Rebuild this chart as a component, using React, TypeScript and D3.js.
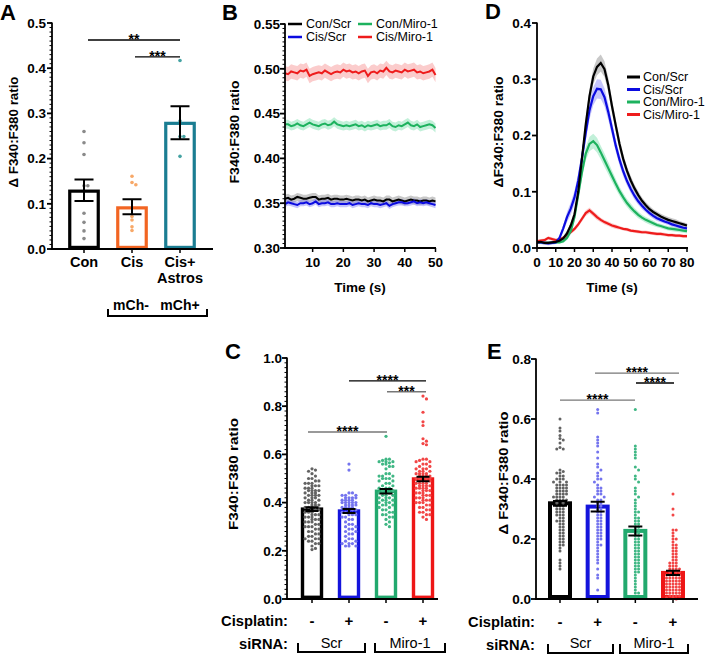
import React from "react";
import * as d3 from "d3";

const FONT = "'Liberation Sans', Arial, Helvetica, sans-serif";

// ---------------- Panel A data ----------------
const catsA = ["Con", "Cis", "Cis+Astros"];
const meanA = [0.128, 0.091, 0.278];
const errLowA = [0.106, 0.077, 0.243];
const errHighA = [0.154, 0.11, 0.316];
const pointsA_Con = [0.26, 0.235, 0.209, 0.14, 0.14, 0.079, 0.059, 0.04, 0.023];
const pointsA_Cis = [0.161, 0.147, 0.142, 0.072, 0.064, 0.049, 0.041];
const pointsA_Astros = [0.417, 0.283, 0.249, 0.249, 0.205];
const ticksA = [0, 0.1, 0.2, 0.3, 0.4, 0.5];

// ---------------- Panel B data (t = 1..50 s) ----------------
const seriesNames = ["Con/Scr", "Cis/Scr", "Con/Miro-1", "Cis/Miro-1"];
const bConScr = [0.355,0.356,0.354,0.355,0.357,0.356,0.355,0.355,0.356,0.357,0.357,0.354,0.355,0.355,0.356,0.354,0.355,0.355,0.354,0.354,0.355,0.354,0.353,0.354,0.354,0.353,0.354,0.352,0.353,0.354,0.353,0.353,0.352,0.354,0.354,0.352,0.353,0.354,0.353,0.352,0.353,0.354,0.353,0.353,0.352,0.353,0.353,0.352,0.353,0.352];
const bCisScr = [0.349,0.351,0.350,0.349,0.348,0.350,0.350,0.351,0.349,0.350,0.352,0.349,0.350,0.350,0.351,0.349,0.349,0.350,0.349,0.349,0.349,0.350,0.348,0.349,0.350,0.349,0.349,0.348,0.350,0.349,0.349,0.348,0.349,0.350,0.347,0.349,0.350,0.351,0.351,0.350,0.350,0.351,0.352,0.350,0.351,0.350,0.351,0.350,0.349,0.348];
const bConMiro = [0.438,0.438,0.436,0.437,0.439,0.437,0.436,0.438,0.440,0.438,0.437,0.436,0.438,0.439,0.437,0.438,0.441,0.438,0.437,0.436,0.437,0.436,0.437,0.438,0.436,0.437,0.435,0.437,0.436,0.437,0.438,0.436,0.437,0.437,0.439,0.436,0.435,0.437,0.436,0.438,0.440,0.437,0.436,0.438,0.435,0.436,0.437,0.438,0.437,0.434];
const bCisMiro = [0.495,0.494,0.497,0.496,0.495,0.498,0.497,0.499,0.492,0.494,0.495,0.496,0.495,0.498,0.496,0.494,0.496,0.497,0.496,0.499,0.497,0.498,0.496,0.497,0.495,0.497,0.498,0.492,0.496,0.497,0.495,0.498,0.497,0.501,0.497,0.496,0.498,0.497,0.496,0.499,0.497,0.498,0.499,0.496,0.497,0.495,0.496,0.497,0.499,0.493];
const bSem = [0.0045, 0.0035, 0.005, 0.008];
const ticksBy = [0.30, 0.35, 0.40, 0.45, 0.50, 0.55];
const ticksBx = [10, 20, 30, 40, 50];

// ---------------- Panel D data (t = 0..80 s, every 2 s) ----------------
const dConScr = [0.010,0.011,0.009,0.009,0.010,0.011,0.013,0.017,0.026,0.040,0.060,0.100,0.160,0.220,0.270,0.305,0.322,0.329,0.318,0.290,0.252,0.218,0.185,0.158,0.137,0.120,0.106,0.094,0.084,0.076,0.069,0.064,0.060,0.056,0.053,0.050,0.048,0.046,0.044,0.042,0.040];
const dCisScr = [0.010,0.010,0.009,0.008,0.009,0.010,0.018,0.035,0.055,0.070,0.090,0.120,0.160,0.205,0.245,0.270,0.283,0.282,0.268,0.242,0.212,0.182,0.157,0.136,0.119,0.105,0.093,0.083,0.075,0.068,0.062,0.057,0.053,0.050,0.047,0.045,0.042,0.040,0.038,0.036,0.035];
const dConMiro = [0.010,0.010,0.009,0.009,0.009,0.010,0.010,0.012,0.018,0.030,0.055,0.095,0.135,0.168,0.185,0.190,0.183,0.170,0.156,0.142,0.128,0.114,0.101,0.090,0.080,0.072,0.065,0.059,0.054,0.050,0.047,0.044,0.041,0.039,0.037,0.035,0.034,0.033,0.032,0.031,0.030];
const dCisMiro = [0.012,0.013,0.014,0.018,0.016,0.014,0.015,0.018,0.023,0.028,0.034,0.042,0.052,0.062,0.067,0.061,0.055,0.050,0.046,0.043,0.040,0.038,0.036,0.034,0.033,0.031,0.030,0.029,0.028,0.028,0.027,0.026,0.025,0.025,0.024,0.023,0.023,0.022,0.022,0.021,0.021];
const dSemConScr = [0.003,0.003,0.003,0.003,0.003,0.003,0.003,0.004,0.005,0.006,0.007,0.009,0.011,0.012,0.013,0.014,0.015,0.015,0.014,0.013,0.012,0.011,0.010,0.009,0.008,0.008,0.007,0.007,0.006,0.006,0.006,0.005,0.005,0.005,0.005,0.005,0.005,0.005,0.004,0.004,0.004];
const dSemCisScr = [0.003,0.003,0.003,0.003,0.003,0.003,0.004,0.006,0.009,0.011,0.012,0.013,0.014,0.015,0.016,0.016,0.017,0.017,0.016,0.014,0.012,0.011,0.010,0.009,0.008,0.007,0.007,0.006,0.006,0.005,0.005,0.005,0.005,0.004,0.004,0.004,0.004,0.004,0.004,0.004,0.004];
const dSemConMiro = [0.002,0.002,0.002,0.002,0.002,0.002,0.002,0.003,0.004,0.006,0.008,0.010,0.011,0.012,0.013,0.013,0.013,0.012,0.012,0.011,0.010,0.009,0.008,0.008,0.007,0.007,0.006,0.006,0.005,0.005,0.005,0.005,0.004,0.004,0.004,0.004,0.004,0.004,0.004,0.004,0.004];
const dSemCisMiro = [0.003,0.003,0.003,0.003,0.003,0.003,0.003,0.003,0.003,0.003,0.004,0.004,0.005,0.005,0.005,0.005,0.005,0.004,0.004,0.004,0.004,0.004,0.003,0.003,0.003,0.003,0.003,0.003,0.003,0.003,0.003,0.003,0.003,0.003,0.003,0.003,0.003,0.003,0.003,0.003,0.003];
const ticksDy = [0, 0.1, 0.2, 0.3, 0.4];
const ticksDx = [0, 10, 20, 30, 40, 50, 60, 70, 80];

// ---------------- Panel C data ----------------
const cisplatinLabels = ["-", "+", "-", "+"];
const meanC = [0.373, 0.365, 0.447, 0.498];
const semC = [0.008, 0.008, 0.009, 0.009];
const pointsC_ConScr = [0.54,0.535,0.53,0.52,0.51,0.50,0.50,0.49,0.49,0.48,0.48,0.48,0.47,0.47,0.47,0.46,0.46,0.46,0.45,0.45,0.45,0.45,0.44,0.44,0.44,0.43,0.43,0.43,0.43,0.42,0.42,0.42,0.41,0.41,0.41,0.40,0.40,0.40,0.40,0.39,0.39,0.39,0.38,0.38,0.38,0.37,0.37,0.37,0.36,0.36,0.36,0.35,0.35,0.35,0.34,0.34,0.34,0.33,0.33,0.33,0.32,0.32,0.32,0.31,0.31,0.30,0.30,0.30,0.29,0.29,0.28,0.28,0.27,0.27,0.26,0.26,0.25,0.25,0.25,0.24,0.24,0.23,0.23,0.22,0.21,0.205];
const pointsC_CisScr = [0.56,0.535,0.44,0.44,0.43,0.43,0.43,0.42,0.42,0.42,0.42,0.41,0.41,0.41,0.41,0.40,0.40,0.40,0.40,0.40,0.39,0.39,0.39,0.39,0.38,0.38,0.38,0.38,0.37,0.37,0.37,0.36,0.36,0.36,0.35,0.35,0.35,0.34,0.34,0.33,0.33,0.32,0.31,0.31,0.30,0.30,0.29,0.29,0.28,0.28,0.27,0.27,0.26,0.25,0.25,0.24,0.24,0.23,0.23,0.23,0.22,0.22,0.22];
const pointsC_ConMiro = [0.675,0.58,0.58,0.575,0.57,0.57,0.57,0.565,0.56,0.56,0.55,0.55,0.54,0.52,0.52,0.51,0.51,0.51,0.50,0.50,0.50,0.49,0.49,0.48,0.48,0.47,0.47,0.46,0.46,0.46,0.45,0.45,0.45,0.44,0.44,0.44,0.43,0.43,0.43,0.42,0.42,0.42,0.41,0.41,0.41,0.40,0.40,0.40,0.39,0.39,0.39,0.38,0.38,0.37,0.37,0.36,0.36,0.35,0.35,0.34,0.34,0.33,0.32,0.31,0.30];
const pointsC_CisMiro = [0.842,0.83,0.775,0.735,0.72,0.665,0.655,0.645,0.64,0.58,0.58,0.575,0.57,0.57,0.56,0.56,0.55,0.55,0.54,0.54,0.54,0.53,0.53,0.53,0.52,0.52,0.52,0.52,0.51,0.51,0.51,0.51,0.50,0.50,0.50,0.50,0.50,0.49,0.49,0.49,0.49,0.48,0.48,0.48,0.48,0.47,0.47,0.47,0.47,0.46,0.46,0.46,0.46,0.45,0.45,0.45,0.44,0.44,0.44,0.43,0.43,0.43,0.42,0.42,0.42,0.41,0.41,0.41,0.40,0.40,0.40,0.39,0.39,0.38,0.38,0.37,0.37,0.36,0.36,0.35,0.35,0.34,0.33];
const ticksC = [0, 0.2, 0.4, 0.6, 0.8, 1.0];

// ---------------- Panel E data ----------------
const meanE = [0.319, 0.308, 0.227, 0.087];
const semE = [0.008, 0.016, 0.015, 0.007];
const pointsE_ConScr = [0.60,0.57,0.56,0.545,0.535,0.53,0.52,0.505,0.50,0.50,0.43,0.425,0.42,0.42,0.41,0.41,0.40,0.40,0.40,0.39,0.39,0.39,0.38,0.38,0.38,0.38,0.37,0.37,0.37,0.37,0.36,0.36,0.36,0.36,0.35,0.35,0.35,0.35,0.34,0.34,0.34,0.34,0.33,0.33,0.33,0.33,0.32,0.32,0.32,0.31,0.31,0.31,0.30,0.30,0.30,0.29,0.29,0.29,0.28,0.28,0.28,0.27,0.27,0.26,0.26,0.26,0.25,0.25,0.24,0.24,0.23,0.23,0.22,0.22,0.21,0.21,0.20,0.20,0.19,0.19,0.18,0.18,0.17,0.16,0.13,0.12,0.11,0.10];
const pointsE_CisScr = [0.632,0.62,0.54,0.53,0.52,0.51,0.49,0.47,0.45,0.44,0.43,0.42,0.41,0.40,0.40,0.39,0.38,0.37,0.37,0.36,0.36,0.35,0.35,0.34,0.34,0.33,0.33,0.32,0.32,0.31,0.31,0.30,0.30,0.29,0.29,0.28,0.28,0.27,0.27,0.26,0.26,0.25,0.25,0.24,0.24,0.23,0.23,0.22,0.22,0.21,0.21,0.20,0.20,0.19,0.18,0.18,0.17,0.16,0.15,0.14,0.13,0.12,0.10,0.08,0.07,0.03];
const pointsE_ConMiro = [0.632,0.51,0.50,0.49,0.48,0.47,0.44,0.43,0.41,0.40,0.39,0.37,0.36,0.35,0.34,0.33,0.32,0.31,0.30,0.29,0.29,0.28,0.27,0.27,0.26,0.26,0.25,0.25,0.24,0.24,0.23,0.23,0.22,0.22,0.21,0.21,0.20,0.20,0.19,0.19,0.18,0.18,0.17,0.17,0.16,0.16,0.15,0.15,0.14,0.14,0.13,0.13,0.12,0.12,0.11,0.11,0.10,0.10,0.09,0.09,0.08,0.07,0.06,0.05,0.04,0.03,0.02,0.02];
const pointsE_CisMiro = [0.35,0.30,0.28,0.23,0.23,0.22,0.21,0.20,0.20,0.19,0.18,0.18,0.17,0.17,0.16,0.16,0.15,0.15,0.14,0.14,0.13,0.13,0.12,0.12,0.12,0.11,0.11,0.11,0.10,0.10,0.10,0.10,0.09,0.09,0.09,0.09,0.08,0.08,0.08,0.08,0.08,0.07,0.07,0.07,0.07,0.07,0.06,0.06,0.06,0.06,0.06,0.05,0.05,0.05,0.05,0.05,0.04,0.04,0.04,0.04,0.04,0.03,0.03,0.03,0.03,0.03,0.02,0.02,0.02,0.02,0.02,0.01,0.01,0.01,0.01,0.005,0.005,0.0];
const ticksE = [0, 0.2, 0.4, 0.6, 0.8];

// ---------------- Colours ----------------
const lineColors = ["#000000", "#0b0be0", "#1db25e", "#ee1c1c"];
const bandColors = ["#9a9a9a", "#6f6ff6", "#66d99f", "#f58080"];
const barColorsCE = ["#000000", "#1414dc", "#22a96e", "#ee1616"];
const ptColorsCE = ["#636363", "#7474ee", "#3fb784", "#f24646"];
const barColorsA = ["#000000", "#f26522", "#1a7d92"];
const ptColorsA = ["#8a8a8a", "#f7a868", "#45a3a3"];

type Scale = (v: number) => number;

function swarm(values: number[], y: Scale, cx: number, r: number, maxHalf: number) {
  const items = values.map((v) => ({ v, py: y(v) })).sort((a, b) => a.py - b.py);
  const placed: { x: number; y: number }[] = [];
  const step = r * 2 + 0.25;
  const nMax = Math.max(0, Math.floor(maxHalf / step));
  for (const it of items) {
    let best = cx;
    let bestScore = -Infinity;
    for (let k = 0; k <= 2 * nMax; k++) {
      const n = Math.ceil(k / 2);
      const off = k === 0 ? 0 : k % 2 === 1 ? n * step : -n * step;
      const x = cx + off;
      let minD = Infinity;
      for (const p of placed) {
        if (Math.abs(p.y - it.py) < 2 * r) {
          const d = Math.hypot(p.x - x, p.y - it.py);
          if (d < minD) minD = d;
        }
      }
      if (minD >= 2 * r) {
        best = x;
        break;
      }
      if (minD > bestScore) {
        bestScore = minD;
        best = x;
      }
    }
    placed.push({ x: best, y: it.py });
  }
  return placed;
}

function YAxis(props: { scale: any; x: number; ticks: number[]; fmt: (v: number) => string; minorStep?: number; gap?: number }) {
  const { scale, x, ticks, fmt, minorStep, gap = 6 } = props;
  const [d0, d1] = scale.domain();
  const minors = minorStep ? d3.range(d0, d1 + 1e-9, minorStep) : [];
  return (
    <g>
      <line x1={x} x2={x} y1={scale(d0) + 1} y2={scale(d1) - 0.5} stroke="#000" strokeWidth={1.8} />
      {minors.map((v, i) => (
        <line key={"m" + i} x1={x - 2.5} x2={x} y1={scale(v)} y2={scale(v)} stroke="#000" strokeWidth={1} />
      ))}
      {ticks.map((v, i) => (
        <g key={i}>
          <line x1={x - 5} x2={x} y1={scale(v)} y2={scale(v)} stroke="#000" strokeWidth={1.8} />
          <text x={x - gap} y={scale(v)} dy="0.36em" textAnchor="end" fontWeight="bold" fontSize={13.5}>
            {fmt(v)}
          </text>
        </g>
      ))}
    </g>
  );
}

function YLabel({ x, y, text, len }: { x: number; y: number; text: string; len: number }) {
  return (
    <text transform={`translate(${x},${y}) rotate(-90)`} dy="0.35em" textAnchor="middle" fontWeight="bold" fontSize={13}
      textLength={len} lengthAdjust="spacingAndGlyphs">
      {text}
    </text>
  );
}

function Sig({ x1, x2, y, label, color }: { x1: number; x2: number; y: number; label: string; color: string }) {
  return (
    <g>
      <line x1={x1} x2={x2} y1={y} y2={y} stroke={color} strokeWidth={1.4} />
      <text x={(x1 + x2) / 2} y={y + 4} textAnchor="middle" fontWeight="bold" fontSize={14}>
        {label}
      </text>
    </g>
  );
}

function Bracket({ x1, x2, y, label, labelY }: { x1: number; x2: number; y: number; label: string; labelY: number }) {
  return (
    <g>
      <path d={`M${x1},${y - 9}V${y}H${x2}V${y - 9}`} fill="none" stroke="#000" strokeWidth={2} />
      <text x={(x1 + x2) / 2} y={labelY} textAnchor="middle" fontSize={14.5}>
        {label}
      </text>
    </g>
  );
}

function BarGroup(props: {
  cx: number; mean: number; lo: number; hi: number; pts: number[]; y: Scale;
  barColor: string; ptColor: string; barW: number; strokeW: number; r: number; cap: number; spread: number;
}) {
  const { cx, mean, lo, hi, pts, y, barColor, ptColor, barW, strokeW, r, cap, spread } = props;
  const y0 = y(0);
  const placed = swarm(pts, y, cx, r, spread);
  return (
    <g>
      <rect x={cx - barW / 2} y={y(mean)} width={barW} height={y0 - y(mean) - strokeW / 2} fill="#fff" stroke={barColor} strokeWidth={strokeW} />
      {placed.map((p, i) => (
        <circle key={i} cx={p.x} cy={p.y} r={r} fill={ptColor} />
      ))}
      <path d={`M${cx - cap},${y(hi)}H${cx + cap}M${cx},${y(hi)}V${y(lo)}M${cx - cap},${y(lo)}H${cx + cap}`} stroke="#000" strokeWidth={2} fill="none" />
    </g>
  );
}

export default function App() {
  // ---------- Panel A ----------
  const yA = d3.scaleLinear().domain([0, 0.5]).range([249, 23]);
  const xA = d3.scalePoint<string>().domain(catsA).range([84, 180]);
  const ptsA = [pointsA_Con, pointsA_Cis, pointsA_Astros];

  // ---------- Panel B ----------
  const yB = d3.scaleLinear().domain([0.3, 0.55]).range([248, 24]);
  const xB = d3.scaleLinear().domain([1, 50]).range([285, 435.5]);
  const bSeries = [bConScr, bCisScr, bConMiro, bCisMiro];
  const lineB = d3.line<number>().x((_, i) => xB(i + 1)).y((v) => yB(v));

  // ---------- Panel D ----------
  const yD = d3.scaleLinear().domain([0, 0.4]).range([248, 23]);
  const xD = d3.scaleLinear().domain([0, 80]).range([537, 687]);
  const dSeries = [dConScr, dCisScr, dConMiro, dCisMiro];
  const dSems = [dSemConScr, dSemCisScr, dSemConMiro, dSemCisMiro];
  const lineD = d3.line<number>().x((_, i) => xD(i * 2)).y((v) => yD(v));

  // ---------- Panel C ----------
  const yC = d3.scaleLinear().domain([0, 1]).range([599, 358]);
  const groupIdx = ["0", "1", "2", "3"];
  const xC = d3.scalePoint<string>().domain(groupIdx).range([312, 423]);
  const ptsC = [pointsC_ConScr, pointsC_CisScr, pointsC_ConMiro, pointsC_CisMiro];

  // ---------- Panel E ----------
  const yE = d3.scaleLinear().domain([0, 0.8]).range([599, 359]);
  const xE = d3.scalePoint<string>().domain(groupIdx).range([560, 673]);
  const ptsE = [pointsE_ConScr, pointsE_CisScr, pointsE_ConMiro, pointsE_CisMiro];

  const fmt1 = d3.format(".1f");
  const fmt2 = d3.format(".2f");

  return (
    <svg width={709} height={655} style={{ position: "absolute", left: 0, top: 0, background: "#fff" }} fontFamily={FONT}>
      <rect x={0} y={0} width={709} height={655} fill="#fff" />

      {/* ================= Panel A ================= */}
      <text x={0} y={20} fontWeight="bold" fontSize={22}>A</text>
      <YLabel x={13} y={132} text="Δ F340:F380 ratio" len={111} />
      {catsA.map((c, i) => (
        <BarGroup key={c} cx={xA(c)!} mean={meanA[i]} lo={errLowA[i]} hi={errHighA[i]} pts={ptsA[i]} y={yA}
          barColor={barColorsA[i]} ptColor={ptColorsA[i]} barW={28.5} strokeW={3.2} r={1.8} cap={9.5} spread={4} />
      ))}
      <line x1={51} x2={213} y1={yA(0)} y2={yA(0)} stroke="#000" strokeWidth={1.8} />
      {catsA.map((c) => (
        <line key={c} x1={xA(c)!} x2={xA(c)!} y1={yA(0)} y2={yA(0) + 4} stroke="#000" strokeWidth={1.5} />
      ))}
      <YAxis scale={yA} x={52} ticks={ticksA} fmt={fmt1} minorStep={0.01} />
      <text x={xA("Con")!} y={267} textAnchor="middle" fontWeight="bold" fontSize={14.5}>Con</text>
      <text x={xA("Cis")!} y={267} textAnchor="middle" fontWeight="bold" fontSize={14.5}>Cis</text>
      <text x={xA("Cis+Astros")!} y={267} textAnchor="middle" fontWeight="bold" fontSize={14.5}>Cis+</text>
      <text x={xA("Cis+Astros")!} y={283} textAnchor="middle" fontWeight="bold" fontSize={14.5}>Astros</text>
      <Sig x1={88} x2={xA("Cis+Astros")!} y={yA(0.4625)} label="**" color="#000" />
      <Sig x1={135} x2={xA("Cis+Astros")!} y={yA(0.425)} label="***" color="#000" />
      <text x={131} y={310} textAnchor="middle" fontWeight="bold" fontSize={14}>mCh-</text>
      <text x={180} y={310} textAnchor="middle" fontWeight="bold" fontSize={14}>mCh+</text>
      <path d="M108,309V316H207V309" fill="none" stroke="#000" strokeWidth={2} />

      {/* ================= Panel B ================= */}
      <text x={222} y={20} fontWeight="bold" fontSize={22}>B</text>
      <YLabel x={234} y={132} text="F340:F380 ratio" len={103} />
      {bSeries.map((s, k) => (
        <path key={"bb" + k}
          d={d3.area<number>().x((_, i) => xB(i + 1)).y0((v) => yB(v - bSem[k])).y1((v) => yB(v + bSem[k]))(s) || ""}
          fill={bandColors[k]} fillOpacity={k === 0 ? 0.55 : 0.4} />
      ))}
      {[2, 3, 0, 1].map((k) => (
        <path key={"bl" + k} d={lineB(bSeries[k]) || ""} fill="none" stroke={lineColors[k]} strokeWidth={2} />
      ))}
      <YAxis scale={yB} x={285} ticks={ticksBy} fmt={fmt2} minorStep={0.005} gap={5} />
      <line x1={284} x2={436} y1={yB(0.3)} y2={yB(0.3)} stroke="#000" strokeWidth={1.8} />
      {ticksBx.map((t) => (
        <g key={t}>
          <line x1={xB(t)} x2={xB(t)} y1={yB(0.3)} y2={yB(0.3) + 4} stroke="#000" strokeWidth={1.5} />
          <text x={xB(t)} y={267} textAnchor="middle" fontWeight="bold" fontSize={13.5}>{t}</text>
        </g>
      ))}
      <text x={360} y={292} textAnchor="middle" fontWeight="bold" fontSize={13.5}>Time (s)</text>
      {seriesNames.map((n, k) => {
        const col = k < 2 ? 0 : 1;
        const row = k % 2;
        const lx = col === 0 ? 288 : 358;
        const ly = row === 0 ? 24 : 37;
        return (
          <g key={n}>
            <line x1={lx} x2={lx + 14} y1={ly} y2={ly} stroke={lineColors[k]} strokeWidth={2.5} />
            <text x={lx + 18} y={ly} dy="0.35em" fontSize={12.5}>{n}</text>
          </g>
        );
      })}

      {/* ================= Panel D ================= */}
      <text x={485} y={19} fontWeight="bold" fontSize={22}>D</text>
      <YLabel x={498} y={132} text="ΔF340:F380 ratio" len={111} />
      {dSeries.map((s, k) => (
        <path key={"db" + k}
          d={d3.area<number>().x((_, i) => xD(i * 2)).y0((v, i) => yD(v - dSems[k][i])).y1((v, i) => yD(v + dSems[k][i]))(s) || ""}
          fill={bandColors[k]} fillOpacity={k === 0 ? 0.55 : 0.4} />
      ))}
      {[3, 2, 1, 0].map((k) => (
        <path key={"dl" + k} d={lineD(dSeries[k]) || ""} fill="none" stroke={lineColors[k]} strokeWidth={2.2} />
      ))}
      <YAxis scale={yD} x={537} ticks={ticksDy} fmt={fmt1} gap={6} />
      <line x1={536} x2={688} y1={yD(0)} y2={yD(0)} stroke="#000" strokeWidth={1.8} />
      {ticksDx.map((t) => (
        <g key={t}>
          <line x1={xD(t)} x2={xD(t)} y1={yD(0)} y2={yD(0) + 4} stroke="#000" strokeWidth={1.5} />
          <text x={xD(t)} y={267} textAnchor="middle" fontWeight="bold" fontSize={13.5}>{t}</text>
        </g>
      ))}
      <text x={612} y={292} textAnchor="middle" fontWeight="bold" fontSize={13.5}>Time (s)</text>
      {seriesNames.map((n, k) => {
        const ly = [77, 89.5, 102, 114.5][k];
        return (
          <g key={"dlg" + n}>
            <line x1={627} x2={640} y1={ly} y2={ly} stroke={lineColors[k]} strokeWidth={3} />
            <text x={643} y={ly} dy="0.35em" fontSize={12.5}>{n}</text>
          </g>
        );
      })}

      {/* ================= Panel C ================= */}
      <text x={225} y={359} fontWeight="bold" fontSize={22}>C</text>
      <YLabel x={233} y={474} text="F340:F380 ratio" len={112} />
      {groupIdx.map((g, i) => (
        <BarGroup key={"c" + g} cx={xC(g)!} mean={meanC[i]} lo={meanC[i] - semC[i]} hi={meanC[i] + semC[i]} pts={ptsC[i]} y={yC}
          barColor={barColorsCE[i]} ptColor={ptColorsCE[i]} barW={19} strokeW={3.4} r={1.6} cap={6.5} spread={9} />
      ))}
      <line x1={286} x2={438} y1={yC(0)} y2={yC(0)} stroke="#000" strokeWidth={1.8} />
      {groupIdx.map((g) => (
        <line key={"ct" + g} x1={xC(g)!} x2={xC(g)!} y1={yC(0)} y2={yC(0) + 4} stroke="#000" strokeWidth={1.5} />
      ))}
      <YAxis scale={yC} x={287} ticks={ticksC} fmt={fmt1} minorStep={0.02} gap={5} />
      <Sig x1={349} x2={426} y={yC(0.905)} label="****" color="#000" />
      <Sig x1={387} x2={426} y={yC(0.86)} label="***" color="#777" />
      <Sig x1={308} x2={387} y={yC(0.693)} label="****" color="#777" />
      <text x={288} y={626} textAnchor="end" fontWeight="bold" fontSize={14.7}>Cisplatin:</text>
      {groupIdx.map((g, i) => (
        <text key={"cp" + g} x={xC(g)!} y={626} textAnchor="middle" fontWeight="bold" fontSize={15}>{cisplatinLabels[i]}</text>
      ))}
      <text x={288} y={649} textAnchor="end" fontWeight="bold" fontSize={14.7}>siRNA:</text>
      <Bracket x1={298} x2={365} y={652} label="Scr" labelY={648} />
      <Bracket x1={375} x2={445} y={652} label="Miro-1" labelY={648} />

      {/* ================= Panel E ================= */}
      <text x={487} y={359} fontWeight="bold" fontSize={22}>E</text>
      <YLabel x={503} y={473} text="Δ F340:F380 ratio" len={123} />
      {groupIdx.map((g, i) => (
        <BarGroup key={"e" + g} cx={xE(g)!} mean={meanE[i]} lo={meanE[i] - semE[i]} hi={meanE[i] + semE[i]} pts={ptsE[i]} y={yE}
          barColor={barColorsCE[i]} ptColor={ptColorsCE[i]} barW={20} strokeW={4} r={1.5} cap={7} spread={9} />
      ))}
      <line x1={535} x2={698} y1={yE(0)} y2={yE(0)} stroke="#000" strokeWidth={1.8} />
      {groupIdx.map((g) => (
        <line key={"et" + g} x1={xE(g)!} x2={xE(g)!} y1={yE(0)} y2={yE(0) + 4} stroke="#000" strokeWidth={1.5} />
      ))}
      <YAxis scale={yE} x={536} ticks={ticksE} fmt={fmt1} gap={5} />
      <Sig x1={595} x2={679} y={yE(0.753)} label="****" color="#777" />
      <Sig x1={636} x2={674} y={yE(0.72)} label="****" color="#000" />
      <Sig x1={560} x2={635} y={yE(0.663)} label="****" color="#777" />
      <text x={535} y={627} textAnchor="end" fontWeight="bold" fontSize={14.7}>Cisplatin:</text>
      {groupIdx.map((g, i) => (
        <text key={"ep" + g} x={xE(g)!} y={627} textAnchor="middle" fontWeight="bold" fontSize={15}>{cisplatinLabels[i]}</text>
      ))}
      <text x={535} y={650} textAnchor="end" fontWeight="bold" fontSize={14.7}>siRNA:</text>
      <Bracket x1={548} x2={613} y={653} label="Scr" labelY={648} />
      <Bracket x1={620} x2={688} y={653} label="Miro-1" labelY={648} />
    </svg>
  );
}
